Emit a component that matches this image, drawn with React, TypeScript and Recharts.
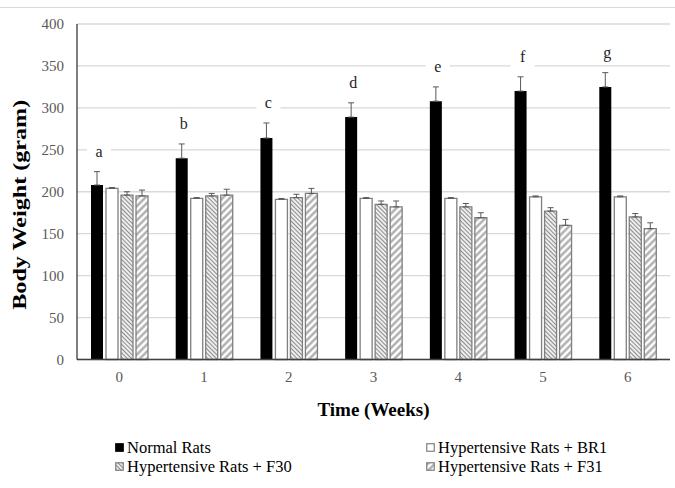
import {
  BarChart,
  Bar,
  XAxis,
  YAxis,
  CartesianGrid,
  ErrorBar,
  LabelList,
  Legend,
  Label,
} from "recharts";

const weeks = ["0", "1", "2", "3", "4", "5", "6"];
const normal = [208, 240, 264, 289, 308, 320, 325];
const normalSd = [16, 17, 18, 17, 17, 17, 17];
const br1 = [204, 192, 191, 192, 192, 194, 194];
const br1Sd = [1, 1, 1, 1, 1, 1, 1];
const f30 = [196, 195, 193, 185, 182, 177, 170];
const f30Sd = [4, 3, 4, 4, 4, 4, 4];
const f31 = [195, 196, 198, 182, 169, 160, 156];
const f31Sd = [7, 7, 6, 7, 6, 7, 7];
const letters = ["a", "b", "c", "d", "e", "f", "g"];
const yTicks = [0, 50, 100, 150, 200, 250, 300, 350, 400];

const data = weeks.map((w, i) => ({
  week: w,
  normal: normal[i],
  normalErr: [0, normalSd[i]],
  br1: br1[i],
  br1Err: [0, br1Sd[i]],
  f30: f30[i],
  f30Err: [0, f30Sd[i]],
  f31: f31[i],
  f31Err: [0, f31Sd[i]],
  letter: letters[i],
}));

const serif = "'Liberation Serif', 'Times New Roman', serif";
const outline = "#7f7f7f";
const errColor = "#595959";

function LetterLabel(props: any) {
  const vb = props.viewBox || props;
  const { x, y, width, height } = vb;
  const i = props.index;
  const errPx = height > 0 ? (normalSd[i] * height) / normal[i] : 0;
  const cx = x + width / 2 + 2;
  const cy = y - errPx - 20;
  return (
    <g>
      <rect x={cx - 12} y={cy - 15} width={24} height={26} fill="#fff" />
      <text
        x={cx}
        y={cy + 5}
        textAnchor="middle"
        fontFamily={serif}
        fontSize={16}
        fill="#262626"
      >
        {props.value}
      </text>
    </g>
  );
}

const legendItems = [
  { name: "Normal Rats", fill: "#000", stroke: "#000" },
  { name: "Hypertensive Rats + BR1", fill: "#fff", stroke: outline },
  { name: "Hypertensive Rats + F30", fill: "url(#hatchF30)", stroke: outline },
  { name: "Hypertensive Rats + F31", fill: "url(#hatchF31)", stroke: outline },
];

function ChartLegend() {
  return (
    <div style={{ position: "relative", width: 675, height: 40 }}>
      {legendItems.map((it, i) => (
        <div
          key={it.name}
          style={{
            position: "absolute",
            left: i % 2 === 0 ? 115 : 426,
            top: 1 + Math.floor(i / 2) * 19,
            height: 19,
            display: "flex",
            alignItems: "center",
            fontFamily: serif,
            fontSize: 16.5,
            color: "#000",
            whiteSpace: "nowrap",
          }}
        >
          <svg width={10} height={10} style={{ marginRight: 2 }}>
            <rect
              x={0.75}
              y={0.75}
              width={7.5}
              height={7.5}
              fill={it.fill}
              stroke={it.stroke}
              strokeWidth={1.2}
            />
          </svg>
          {it.name}
        </div>
      ))}
    </div>
  );
}

export default function App() {
  return (
    <div style={{ position: "relative", width: 675, height: 488, background: "#fff" }}>
      <style>{"body{margin:0}"}</style>
      <div
        style={{
          position: "absolute",
          left: 0,
          top: 7,
          width: 675,
          height: 1,
          background: "#d9d9d9",
        }}
      />
      <BarChart
        width={675}
        height={488}
        data={data}
        margin={{ top: 24, right: 5, left: 0, bottom: 10 }}
        barSize={12}
        barGap={3}
      >
        <defs>
          <pattern
            id="hatchF30"
            patternUnits="userSpaceOnUse"
            width={3}
            height={3}
            patternTransform="rotate(45)"
          >
            <rect width={3} height={3} fill="#fff" />
            <line x1={0} y1={1.5} x2={3} y2={1.5} stroke="#8c8c8c" strokeWidth={1.3} />
          </pattern>
          <pattern
            id="hatchF31"
            patternUnits="userSpaceOnUse"
            width={5}
            height={5}
            patternTransform="rotate(45)"
          >
            <rect width={5} height={5} fill="#fff" />
            <line x1={2.5} y1={0} x2={2.5} y2={5} stroke="#a6a6a6" strokeWidth={2.2} />
          </pattern>
        </defs>
        <CartesianGrid vertical={false} stroke="#d9d9d9" strokeWidth={1.3} />
        <XAxis
          dataKey="week"
          height={78.5}
          axisLine={{ stroke: "#404040", strokeWidth: 1.5 }}
          tickLine={false}
          tickSize={0}
          tickMargin={12}
          tick={{ fill: "#595959", fontSize: 15, fontFamily: serif }}
        >
          <Label
            content={(p: any) => {
              const vb = p.viewBox;
              return (
                <text
                  x={vb.x + vb.width / 2}
                  y={vb.y + 56}
                  textAnchor="middle"
                  fontFamily={serif}
                  fontWeight="bold"
                  fontSize={19}
                  fill="#000"
                >
                  Time (Weeks)
                </text>
              );
            }}
          />
        </XAxis>
        <YAxis
          width={77}
          domain={[0, 400]}
          ticks={yTicks}
          interval={0}
          axisLine={{ stroke: "#000", strokeWidth: 1 }}
          tickLine={false}
          tickSize={0}
          tickMargin={13}
          tick={{ fill: "#595959", fontSize: 15, fontFamily: serif }}
        >
          <Label
            content={(p: any) => {
              const vb = p.viewBox;
              const cx = 19;
              const cy = vb.y + vb.height / 2 + 13;
              return (
                <text
                  x={cx}
                  y={cy}
                  transform={`rotate(-90, ${cx}, ${cy})`}
                  textAnchor="middle"
                  dominantBaseline="central"
                  fontFamily={serif}
                  fontWeight="bold"
                  fontSize={19}
                  textLength={210}
                  lengthAdjust="spacingAndGlyphs"
                  fill="#000"
                >
                  Body Weight (gram)
                </text>
              );
            }}
          />
        </YAxis>
        <Legend
          verticalAlign="bottom"
          content={() => <ChartLegend />}
          wrapperStyle={{ left: 0, top: 437, bottom: "auto", width: 675, height: 40 }}
        />
        <Bar dataKey="normal" name="Normal Rats" fill="#000" isAnimationActive={false}>
          <ErrorBar dataKey="normalErr" width={3} stroke={errColor} strokeWidth={1} direction="y" />
          <LabelList dataKey="letter" content={LetterLabel} />
        </Bar>
        <Bar
          dataKey="br1"
          name="Hypertensive Rats + BR1"
          fill="#fff"
          stroke={outline}
          strokeWidth={1.3}
          isAnimationActive={false}
        >
          <ErrorBar dataKey="br1Err" width={3} stroke={errColor} strokeWidth={1} direction="y" />
        </Bar>
        <Bar
          dataKey="f30"
          name="Hypertensive Rats + F30"
          fill="url(#hatchF30)"
          stroke={outline}
          strokeWidth={1.3}
          isAnimationActive={false}
        >
          <ErrorBar dataKey="f30Err" width={3} stroke={errColor} strokeWidth={1} direction="y" />
        </Bar>
        <Bar
          dataKey="f31"
          name="Hypertensive Rats + F31"
          fill="url(#hatchF31)"
          stroke={outline}
          strokeWidth={1.3}
          isAnimationActive={false}
        >
          <ErrorBar dataKey="f31Err" width={3} stroke={errColor} strokeWidth={1} direction="y" />
        </Bar>
      </BarChart>
    </div>
  );
}
